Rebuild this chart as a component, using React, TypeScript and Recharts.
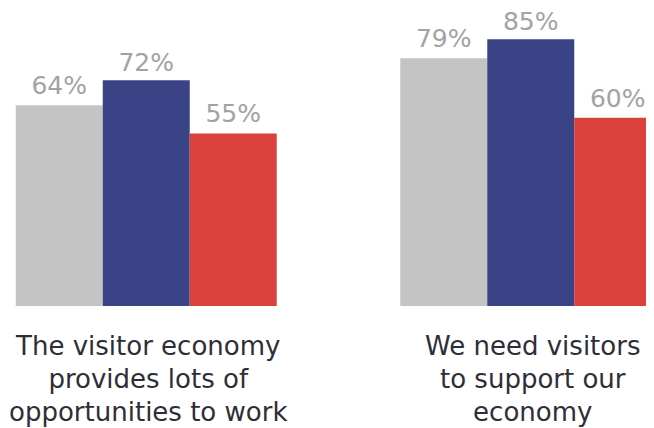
import React from 'react';
import { BarChart, Bar, XAxis, YAxis, LabelList } from 'recharts';

// two statements, three response groups each
const categories = [
  ['The visitor economy', 'provides lots of', 'opportunities to work'],
  ['We need visitors', 'to support our', 'economy'],
];
const greyValues = [64, 79];
const navyValues = [72, 85];
const redValues = [55, 60];

const data = categories.map((lines, i) => ({
  name: lines.join(' '),
  lines,
  grey: greyValues[i],
  navy: navyValues[i],
  red: redValues[i],
}));

const FONT = '"DejaVu Sans", sans-serif';

const CategoryTick = (props: any) => {
  const { x, y, payload } = props;
  const row = data[payload.index] || data.find(d => d.name === payload.value);
  const lines = row ? row.lines : [String(payload.value)];
  return (
    <text x={x} y={y} textAnchor="middle" fill="#2e2e38" fontSize={26} fontFamily={FONT}>
      {lines.map((l: string, i: number) => (
        <tspan key={i} x={x + 2} y={y + 41 + i * 33}>{l}</tspan>
      ))}
    </text>
  );
};

const pct = (v: any) => `${v}%`;

const labelStyle = { fill: '#a2a2a6', fontSize: 25, fontFamily: FONT };

const App: React.FC = () => {
  return (
    <div style={{ width: 646, height: 428, marginTop: -8, overflow: 'hidden', position: 'relative' }}>
      <div style={{ marginLeft: -54 }}>
        <BarChart
          width={769}
          height={428}
          data={data}
          margin={{ top: 8, right: 0, bottom: 0, left: 0 }}
          barGap={0}
          barCategoryGap={61.75}
        >
          <XAxis
            dataKey="name"
            axisLine={false}
            tickLine={false}
            height={122}
            interval={0}
            tick={<CategoryTick />}
          />
          <YAxis hide domain={[0, 95]} />
          <Bar dataKey="grey" fill="#c4c4c4" isAnimationActive={false}>
            <LabelList dataKey="grey" position="top" offset={11} formatter={pct} style={labelStyle} />
          </Bar>
          <Bar dataKey="navy" fill="#3b4387" isAnimationActive={false}>
            <LabelList dataKey="navy" position="top" offset={9} formatter={pct} style={labelStyle} />
          </Bar>
          <Bar dataKey="red" fill="#d9413a" isAnimationActive={false}>
            <LabelList dataKey="red" position="top" offset={11} formatter={pct} style={labelStyle} />
          </Bar>
        </BarChart>
      </div>
    </div>
  );
};

export default App;
